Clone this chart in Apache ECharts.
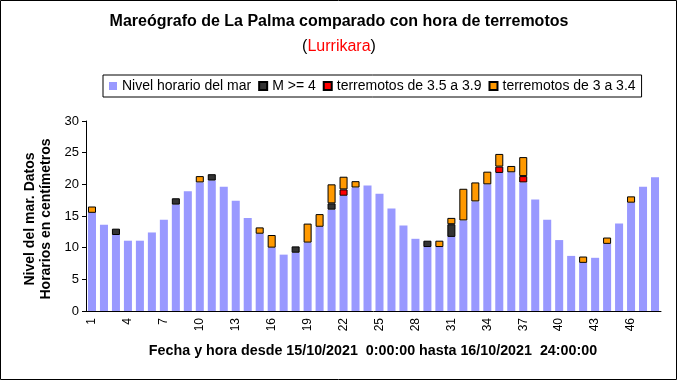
<!DOCTYPE html>
<html>
<head>
<meta charset="utf-8">
<script src="https://cdn.jsdelivr.net/npm/echarts@6/dist/echarts.min.js"></script>
<style>
html,body{margin:0;padding:0;background:#fff;}
#c{width:677px;height:380px;}
</style>
</head>
<body>
<div id="c"></div>
<script>
// categories: hour index 1..48
var categories = ['1','2','3','4','5','6','7','8','9','10','11','12','13','14','15','16','17','18','19','20','21','22','23','24','25','26','27','28','29','30','31','32','33','34','35','36','37','38','39','40','41','42','43','44','45','46','47','48'];
// Nivel horario del mar (cm)
var nivel = [15.5,13.6,12.0,11.1,11.1,12.4,14.4,16.8,18.9,20.3,20.6,19.6,17.4,14.7,12.2,10.0,8.9,9.2,10.8,13.3,16.0,18.2,19.5,19.8,18.5,16.2,13.5,11.4,10.1,10.1,11.7,14.3,17.3,20.0,21.8,21.9,20.3,17.6,14.4,11.2,8.7,7.6,8.4,10.6,13.8,17.1,19.6,21.1];
// M >= 4
var m4 = [null,null,1,null,null,null,null,1,null,null,1,null,null,null,null,null,null,1,null,null,1,null,null,null,null,null,null,null,1,null,2,null,null,null,null,null,null,null,null,null,null,null,null,null,null,null,null,null];
// terremotos de 3.5 a 3.9
var m35 = [null,null,null,null,null,null,null,null,null,null,null,null,null,null,null,null,null,null,null,null,null,1,null,null,null,null,null,null,null,null,null,null,null,null,1,null,1,null,null,null,null,null,null,null,null,null,null,null];
// terremotos de 3 a 3.4
var m3 = [1,null,null,null,null,null,null,null,null,1,null,null,null,null,1,2,null,null,3,2,3,2,1,null,null,null,null,null,null,1,1,5,3,2,2,1,3,null,null,null,null,1,null,1,null,1,null,null];
var seriesNames = ['Nivel horario del mar','M >= 4','terremotos de 3.5 a 3.9','terremotos de 3 a 3.4'];
var yTicks = {min:0, max:30, interval:5};

var FONT = 'Liberation Sans, Arial, sans-serif';
var chart = echarts.init(document.getElementById('c'), null, {renderer:'canvas'});
var boxStyle = function(c){ return {color:c, borderColor:'#000', borderWidth:1}; };
chart.setOption({
  animation:false,
  backgroundColor:'#fff',
  grid:{left:86, right:16, top:121, bottom:69, containLabel:false},
  legend:{
    left:103, top:75, padding:[4,6,4,6],
    borderColor:'#000', borderWidth:1,
    itemWidth:8, itemHeight:8, itemGap:7,
    icon:'rect',
    textStyle:{fontFamily:FONT, fontSize:14, color:'#000'},
    data:seriesNames
  },
  xAxis:{
    type:'category', data:categories, boundaryGap:true,
    axisLine:{lineStyle:{color:'#000', width:1}},
    axisTick:{interval:0, length:4, lineStyle:{color:'#000'}},
    axisLabel:{interval:2, rotate:90, margin:7, fontFamily:FONT, fontSize:12, color:'#000'},
    splitLine:{show:false}
  },
  yAxis:{
    type:'value', min:yTicks.min, max:yTicks.max, interval:yTicks.interval,
    axisLine:{show:true, lineStyle:{color:'#000', width:1}},
    axisTick:{show:true, length:4, lineStyle:{color:'#000'}},
    axisLabel:{margin:7, fontFamily:FONT, fontSize:13, color:'#000'},
    splitLine:{show:false}
  },
  series:[
    {name:seriesNames[0], type:'bar', stack:'s', data:nivel, barCategoryGap:'33%', itemStyle:{color:'#9999FF'}},
    {name:seriesNames[1], type:'bar', stack:'s', data:m4, itemStyle:boxStyle('#333333')},
    {name:seriesNames[2], type:'bar', stack:'s', data:m35, itemStyle:boxStyle('#FF0000')},
    {name:seriesNames[3], type:'bar', stack:'s', data:m3, itemStyle:boxStyle('#FF9900')}
  ],
  graphic:[
    {type:'rect', shape:{x:0.5, y:0.5, width:676, height:379}, style:{fill:'none', stroke:'#000', lineWidth:1}, silent:true, z:100},
    {type:'text', x:339, y:22, style:{text:'Mareógrafo de La Palma comparado con hora de terremotos', font:'bold 16px '+FONT, fill:'#000', textAlign:'center', textVerticalAlign:'middle'}},
    {type:'text', x:339, y:47, style:{text:'{p|(}{r|Lurrikara}{p|)}', textAlign:'center', textVerticalAlign:'middle',
      rich:{p:{fontFamily:FONT, fontSize:16, fill:'#000'}, r:{fontFamily:FONT, fontSize:16, fill:'#FF0000'}}}},
    {type:'text', x:38, y:219, rotation:Math.PI/2, style:{text:'Nivel del mar. Datos\nHorarios en centímetros', font:'bold 14px '+FONT, lineHeight:16, fill:'#000', textAlign:'center', textVerticalAlign:'middle'}},
    {type:'text', x:373, y:351, style:{text:'Fecha y hora desde 15/10/2021  0:00:00 hasta 16/10/2021  24:00:00', font:'bold 14.3px '+FONT, fill:'#000', textAlign:'center', textVerticalAlign:'middle'}}
  ]
});
</script>
</body>
</html>
